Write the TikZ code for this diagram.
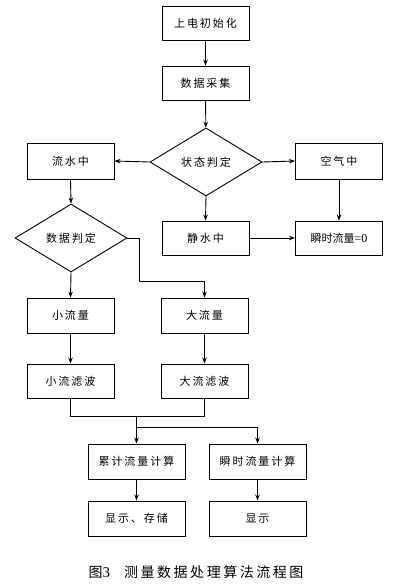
\documentclass[tikz,border=0pt]{standalone}
\usepackage{fontspec}
\setmainfont{Liberation Serif}
\newfontfamily\cjk[LetterSpace=18]{Noto Sans CJK SC}
\newfontfamily\cjktight{Noto Sans CJK SC}
\usetikzlibrary{shapes.geometric,arrows.meta}
\begin{document}
\begin{tikzpicture}[x=1pt,y=-1pt,
  box/.style={draw,line width=0.9pt,minimum width=87pt,minimum height=34pt,inner sep=0pt,font=\cjk\fontsize{11}{13}\selectfont},
  wbox/.style={box,minimum width=97pt,minimum height=35pt},
  dia/.style={draw,line width=0.9pt,diamond,minimum width=112pt,minimum height=68pt,inner sep=0pt,font=\cjk\fontsize{11}{13}\selectfont},
  arr/.style={draw,line width=0.9pt,-{Stealth[length=6pt,width=4.5pt]}},
  ln/.style={draw,line width=0.9pt}]
\useasboundingbox (0,0) rectangle (397,584);
\node[box] (init) at (205.5,23) {上电初始化};
\node[box] (acq) at (205.5,83) {数据采集};
\node[dia] (state) at (206,162) {状态判定};
\node[box,minimum height=36pt] (flow) at (70.5,161) {流水中};
\node[box,minimum height=36pt] (air) at (339,161) {空气中};
\node[dia] (judge) at (71,238) {数据判定};
\node[box] (still) at (205.5,238) {静水中};
\node[box,font=\cjktight\fontsize{11}{13}\selectfont] (zero) at (339,238) {瞬时流量{\rmfamily\fontsize{12}{13}\selectfont =0}};
\node[box,minimum height=35pt] (small) at (70.5,315.5) {小流量};
\node[box,minimum height=35pt] (big) at (204.5,315.5) {大流量};
\node[box] (sf) at (70.5,381) {小流滤波};
\node[box] (bf) at (204.5,381) {大流滤波};
\node[wbox] (acc) at (136.5,461.5) {累计流量计算};
\node[wbox] (inst) at (257.5,461.5) {瞬时流量计算};
\node[wbox] (d1) at (136.5,518.5) {显示、存储};
\node[wbox] (d2) at (257.5,518.5) {显示};
\node[inner sep=0pt] (cap) at (196,572) {{\cjktight\fontsize{14}{16}\selectfont 图}{\fontsize{15}{16}\selectfont 3}\hspace{14pt}{\cjk\fontsize{14}{16}\selectfont 测量数据处理算法流程图}};
\coordinate (j1) at (139,281);
\coordinate (m) at (136.5,416);
\coordinate (s) at (136.5,427);
\draw[arr] (init) -- (acq);
\draw[arr] (acq) -- (state);
\draw[arr] (state.west) -- (flow.east);
\draw[arr] (state.east) -- (air.west);
\draw[arr] (state.south) -- (still.north);
\draw[arr] (air.south) -- (zero.north);
\draw[arr] (still.east) -- (zero.west);
\draw[arr] (flow.south) -- (judge.north);
\draw[arr] (judge.south) -- (small.north);
\draw[ln] (judge.east) -| (j1);
\draw[arr] (j1) -| (big.north);
\draw[arr] (small) -- (sf);
\draw[arr] (big) -- (bf);
\draw[ln] (sf.south) |- (m);
\draw[ln] (bf.south) |- (m);
\draw[arr] (m) -- (acc.north);
\draw[arr] (s) -| (inst.north);
\draw[arr] (acc) -- (d1);
\draw[arr] (inst) -- (d2);
\end{tikzpicture}
\end{document}
